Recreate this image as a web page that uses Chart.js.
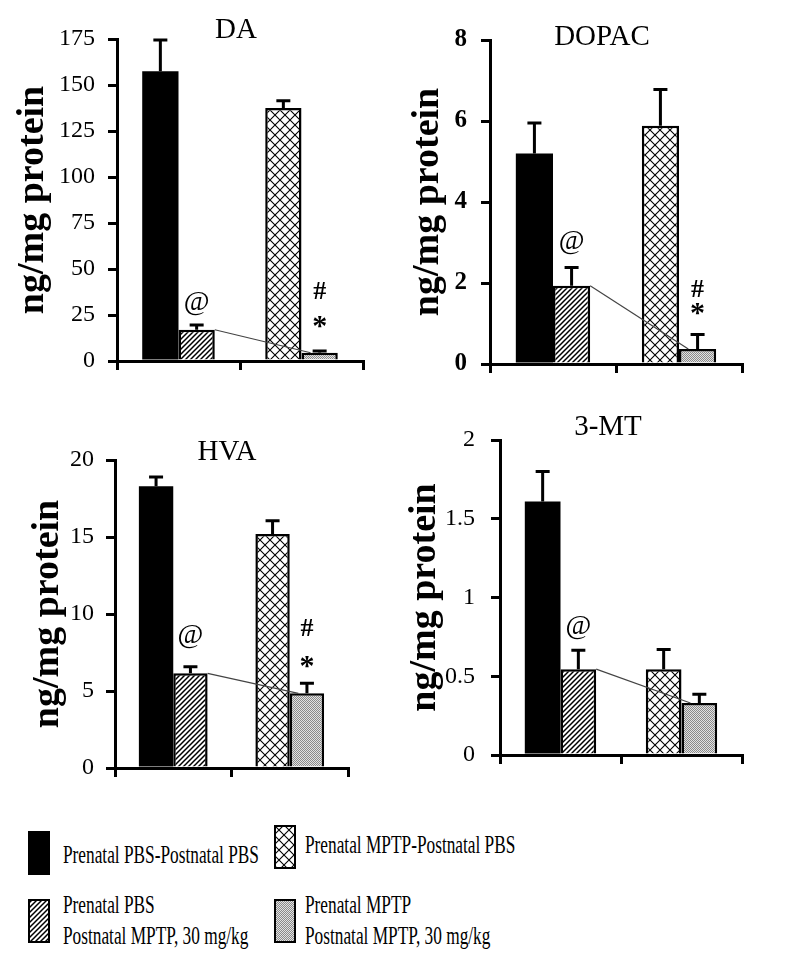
<!DOCTYPE html>
<html>
<head>
<meta charset="utf-8">
<script src="https://cdn.jsdelivr.net/npm/chart.js@4.4.0/dist/chart.umd.min.js"></script>
<style>
  body { margin: 0; background: #fff; }
  #page { position: relative; width: 800px; height: 967px; overflow: hidden; }
  #page canvas { position: absolute; }
  .lbl { position: absolute; font-family: 'Liberation Serif', 'Times New Roman', serif; font-size: 26px;
         line-height: 31px; color: #000; white-space: nowrap; transform: scaleX(0.665); transform-origin: 0 0; }
</style>
</head>
<body>
<div id="page">
  <canvas id="da" width="400" height="400" style="left:0;top:0"></canvas>
  <canvas id="dopac" width="400" height="400" style="left:400px;top:0"></canvas>
  <canvas id="hva" width="400" height="400" style="left:0;top:400px"></canvas>
  <canvas id="mt" width="400" height="400" style="left:400px;top:400px"></canvas>
</div>
<script>
// groups on the x axis
const groups = ['Prenatal PBS', 'Prenatal MPTP'];
// bar order in every panel: PBS-PBS, PBS-MPTP, MPTP-PBS, MPTP-MPTP
const legendLabels = [
  'Prenatal PBS-Postnatal PBS',
  'Prenatal PBS<br>Postnatal MPTP, 30 mg/kg',
  'Prenatal MPTP-Postnatal PBS',
  'Prenatal MPTP<br>Postnatal MPTP, 30 mg/kg'
];

const daMean = [157.5, 17, 137.5, 4.5];
const daErr = [17, 2.5, 4, 0.9];
const daTicks = [0, 25, 50, 75, 100, 125, 150, 175];

const dopacMean = [5.2, 1.93, 5.88, 0.37];
const dopacErr = [0.75, 0.45, 0.9, 0.36];
const dopacTicks = [0, 2, 4, 6, 8];

const hvaMean = [18.3, 6.15, 15.2, 4.85];
const hvaErr = [0.6, 0.43, 0.86, 0.65];
const hvaTicks = [0, 5, 10, 15, 20];

const mtMean = [1.61, 0.545, 0.545, 0.33];
const mtErr = [0.19, 0.12, 0.125, 0.055];
const mtTicks = [0, 0.5, 1, 1.5, 2];

const FONT = "'Liberation Serif', 'Times New Roman', serif";
Chart.defaults.font.family = FONT;
Chart.defaults.color = '#000';

function makePattern(kind) {
  const c = document.createElement('canvas');
  const g = c.getContext('2d');
  let s;
  if (kind === 'hatch') {
    s = 5; c.width = c.height = s;
    g.fillStyle = '#fff'; g.fillRect(0, 0, s, s);
    g.strokeStyle = '#000'; g.lineWidth = 1.5;
    g.beginPath();
    g.moveTo(0, s); g.lineTo(s, 0);
    g.moveTo(-1, 1); g.lineTo(1, -1);
    g.moveTo(s - 1, s + 1); g.lineTo(s + 1, s - 1);
    g.stroke();
  } else if (kind === 'cross') {
    s = 10; c.width = c.height = s;
    g.fillStyle = '#fff'; g.fillRect(0, 0, s, s);
    g.strokeStyle = '#000'; g.lineWidth = 1.1;
    g.beginPath();
    g.moveTo(0, 0); g.lineTo(s, s);
    g.moveTo(0, s); g.lineTo(s, 0);
    g.stroke();
  } else {
    s = 2; c.width = c.height = s;
    g.fillStyle = '#e2e2e2'; g.fillRect(0, 0, s, s);
    g.fillStyle = '#8a8a8a'; g.fillRect(0, 0, 1, 1); g.fillRect(1, 1, 1, 1);
  }
  return g.createPattern(c, 'repeat');
}

const fills = ['#000', 'hatch', 'cross', 'dots'].map(f => f === '#000' ? f : makePattern(f));

function decorPlugin(p) {
  return {
    id: 'decor',
    afterDatasetsDraw(chart) {
      const ctx = chart.ctx, ys = chart.scales.y;
      const bar = k => chart.getDatasetMeta(k % 2).data[Math.floor(k / 2)];
      ctx.save();
      // thin connector between the two postnatal MPTP groups
      const b1 = bar(1), b3 = bar(3);
      ctx.strokeStyle = '#444'; ctx.lineWidth = 1.2;
      ctx.beginPath();
      ctx.moveTo(b1.x + b1.width / 2, b1.y);
      ctx.lineTo(b3.x - b3.width / 4, b3.y);
      ctx.stroke();
      // upper error bars
      ctx.strokeStyle = '#000'; ctx.lineWidth = 3;
      for (let k = 0; k < 4; k++) {
        const b = bar(k);
        const top = ys.getPixelForValue(p.mean[k] + p.err[k]);
        ctx.beginPath();
        ctx.moveTo(b.x, b.y); ctx.lineTo(b.x, top);
        ctx.moveTo(b.x - 7, top); ctx.lineTo(b.x + 7, top);
        ctx.stroke();
      }
      // significance marks
      ctx.fillStyle = '#000'; ctx.textAlign = 'center'; ctx.textBaseline = 'alphabetic';
      p.marks.forEach(([text, k, dy, font]) => {
        const b = bar(k);
        const top = ys.getPixelForValue(p.mean[k] + p.err[k]);
        ctx.font = font + ' ' + FONT;
        const m = ctx.measureText(text);
        const cy = top - dy;
        ctx.fillText(text, b.x, cy + (m.actualBoundingBoxAscent - m.actualBoundingBoxDescent) / 2);
      });
      // panel title
      ctx.font = '29px ' + FONT;
      ctx.textBaseline = 'middle';
      ctx.fillText(p.title, p.titleX, p.titleY);
      ctx.restore();
    }
  };
}

function buildChart(id, p) {
  const m = p.mean;
  new Chart(document.getElementById(id), {
    type: 'bar',
    data: {
      labels: groups,
      datasets: [
        { data: [m[0], m[2]], backgroundColor: [fills[0], fills[2]], borderColor: '#000', borderWidth: [0, 2.5] },
        { data: [m[1], m[3]], backgroundColor: [fills[1], fills[3]], borderColor: '#000', borderWidth: 2.5 }
      ]
    },
    options: {
      responsive: false,
      animation: false,
      devicePixelRatio: 1,
      categoryPercentage: 0.59,
      barPercentage: 1,
      layout: { padding: p.pad },
      plugins: { legend: { display: false }, tooltip: { enabled: false } },
      scales: {
        x: {
          grid: { drawOnChartArea: false, drawTicks: true, tickLength: 9, color: '#000', lineWidth: 3, offset: true },
          border: { display: true, color: '#000', width: 3 },
          ticks: { display: false },
          afterFit: s => { s.height = 9; }
        },
        y: {
          min: 0,
          max: p.ticks[p.ticks.length - 1],
          afterBuildTicks: s => { s.ticks = p.ticks.map(v => ({ value: v })); },
          afterFit: s => { s.width = p.yWidth; },
          grid: { drawOnChartArea: false, drawTicks: true, tickLength: 9, color: '#000', lineWidth: 3 },
          border: { display: true, color: '#000', width: 3 },
          ticks: {
            padding: p.tickPad, color: '#000',
            font: { family: FONT, size: p.tickBold ? 25 : 24, weight: p.tickBold ? 'bold' : 'normal' },
            callback: v => String(v)
          },
          title: {
            display: true, text: 'ng/mg protein', color: '#000',
            font: { family: FONT, size: 38, weight: 'bold', lineHeight: 1 },
            padding: { top: p.yTitlePad, bottom: 0 }
          }
        }
      }
    },
    plugins: [decorPlugin(p)]
  });
}

buildChart('da', {
  mean: daMean, err: daErr, ticks: daTicks, title: 'DA', titleX: 236, titleY: 30,
  pad: { left: 0, top: 39, right: 37, bottom: 30 }, yWidth: 117, yTitlePad: 14, tickPad: 13,
  marks: [['@', 1, 21, '28px'], ['*', 3, 29, 'bold 30px'], ['#', 3, 61, 'bold 26px']]
});
buildChart('dopac', {
  mean: dopacMean, err: dopacErr, ticks: dopacTicks, title: 'DOPAC', titleX: 202, titleY: 37, tickBold: true,
  pad: { left: 0, top: 40, right: 58, bottom: 27 }, yWidth: 90, yTitlePad: 9, tickPad: 14,
  marks: [['@', 1, 25, '28px'], ['*', 3, 25, 'bold 30px'], ['#', 3, 46, 'bold 26px']]
});
buildChart('hva', {
  mean: hvaMean, err: hvaErr, ticks: hvaTicks, title: 'HVA', titleX: 227, titleY: 52,
  pad: { left: 0, top: 60, right: 52, bottom: 23 }, yWidth: 115, yTitlePad: 29, tickPad: 12,
  marks: [['@', 1, 30, '28px'], ['*', 3, 21, 'bold 30px'], ['#', 3, 56, 'bold 26px']]
});
buildChart('mt', {
  mean: mtMean, err: mtErr, ticks: mtTicks, title: '3-MT', titleX: 208, titleY: 27,
  pad: { left: 0, top: 40, right: 58, bottom: 36 }, yWidth: 100, yTitlePad: 6, tickPad: 16,
  marks: [['@', 1, 22, '28px']]
});

// legend
const page = document.getElementById('page');
const legendBoxes = [
  { x: 28, y: 831, tx: 63, ty: 839 },
  { x: 28, y: 899, tx: 63, ty: 889 },
  { x: 274, y: 825, tx: 305, ty: 829 },
  { x: 274, y: 899, tx: 305, ty: 889 }
];
legendBoxes.forEach((b, i) => {
  const c = document.createElement('canvas');
  c.width = 22; c.height = 44;
  c.style.left = b.x + 'px'; c.style.top = b.y + 'px';
  const g = c.getContext('2d');
  g.fillStyle = fills[i]; g.fillRect(0, 0, 22, 44);
  g.strokeStyle = '#000'; g.lineWidth = 2; g.strokeRect(1, 1, 20, 42);
  page.appendChild(c);
  const d = document.createElement('div');
  d.className = 'lbl';
  d.style.left = b.tx + 'px'; d.style.top = b.ty + 'px';
  d.innerHTML = legendLabels[i];
  page.appendChild(d);
});
</script>
</body>
</html>
